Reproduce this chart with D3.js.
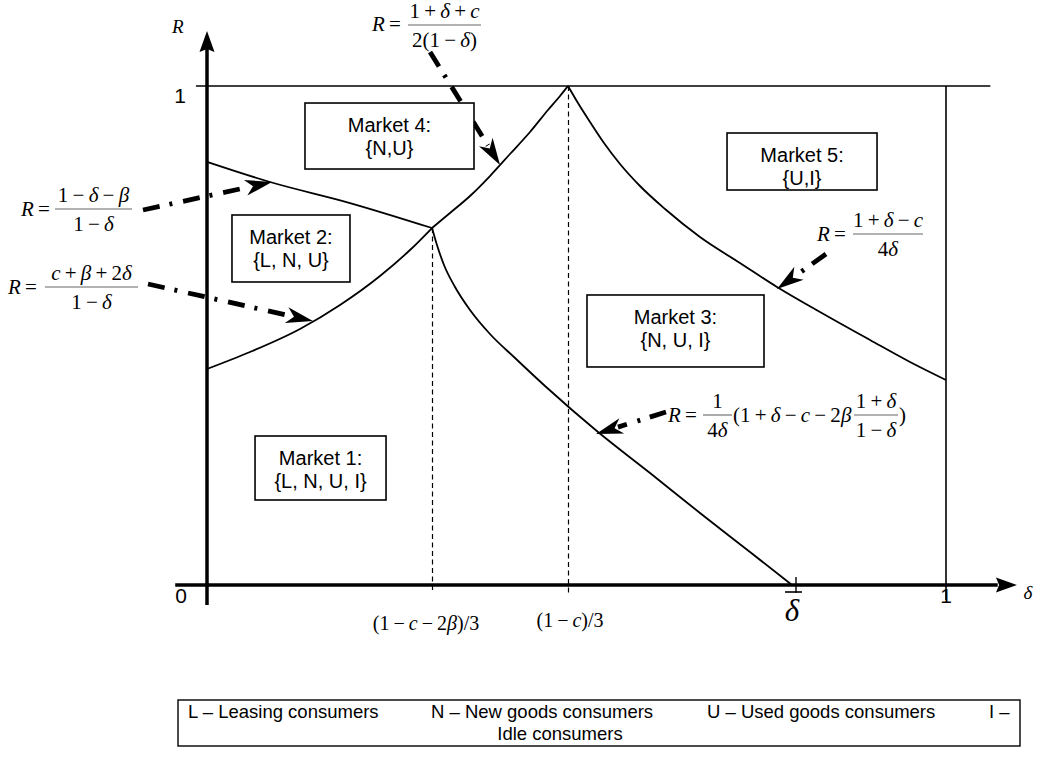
<!DOCTYPE html>
<html>
<head>
<meta charset="utf-8">
<script src="https://cdn.jsdelivr.net/npm/d3@7/dist/d3.min.js"></script>
<style>
  body { margin: 0; background: #fff; }
  svg { display: block; }
  text { white-space: pre; }
  .sans { font-family: "Liberation Sans", Arial, sans-serif; }
  .serif { font-family: "Liberation Serif", "Times New Roman", serif; }
</style>
</head>
<body>
<div id="chart-wrap"></div>
<script>
// critical values of delta on the horizontal axis
const deltaKink = 0.3045;   // (1-c-2β)/3
const deltaPeak = 0.4885;   // (1-c)/3
const deltaBar = 0.7916;

// boundary curves, [delta, R]
const curveTopLeft = [[0, 0.848], [0.0853, 0.8076], [0.1935, 0.7655], [0.3045, 0.7154]];
const curveLowerLeft = [[0, 0.4329], [0.0582, 0.4669], [0.1258, 0.513], [0.18, 0.5611],
  [0.2341, 0.6192], [0.2747, 0.6713], [0.3045, 0.7154]];
const curveUpperMid = [[0.3045, 0.7154], [0.3288, 0.7455], [0.3559, 0.7796], [0.3829, 0.8196],
  [0.41, 0.8637], [0.4371, 0.9078], [0.4614, 0.9519], [0.4777, 0.98], [0.4885, 1.0]];
const curveRight = [[0.4885, 1.0], [0.502, 0.9659], [0.5183, 0.9279], [0.5372, 0.8858],
  [0.5589, 0.8437], [0.5859, 0.7996], [0.6198, 0.7535], [0.6671, 0.6974], [0.7212, 0.6453],
  [0.7713, 0.5972], [0.8295, 0.5471], [0.8972, 0.491], [0.9513, 0.4469], [1.0, 0.4108]];
const curveFalling = [[0.3045, 0.7154], [0.3112, 0.6814], [0.3207, 0.6413], [0.3356, 0.5972],
  [0.3559, 0.5511], [0.3829, 0.503], [0.4168, 0.4549], [0.4574, 0.3988], [0.5291, 0.3066],
  [0.5995, 0.2244], [0.6671, 0.1443], [0.7348, 0.0661], [0.7916, 0]];

// region labels: name, consumers present, top-left corner [delta, R]
const marketNames = ["Market 1:", "Market 2:", "Market 3:", "Market 4:", "Market 5:"];
const marketSets = ["{L, N, U, I}", "{L, N, U}", "{N, U, I}", "{N,U}", "{U,I}"];
const marketCorners = [[0.065, 0.2986], [0.0338, 0.7415], [0.5142, 0.5812], [0.1326, 0.9659], [0.7037, 0.9058]];

// tick labels
const axisLabels = ["0", "1"];
const kinkLabel = "(1\u2009−\u2009c\u2009−\u20092β)/3";
const peakLabel = "(1\u2009−\u2009c)/3";
const legendItems = ["L – Leasing consumers", "N – New goods consumers", "U – Used goods consumers", "I –"];
const legendLine2 = "Idle consumers";

// arrows from the formulas to the curves: [delta, R] start and tip
const arrowStarts = [[0.3018, 1.0681], [-0.0866, 0.7515], [-0.0798, 0.6032], [0.8376, 0.6633], [0.6211, 0.3467]];
const arrowTips = [[0.3965, 0.8417], [0.088, 0.8076], [0.1434, 0.5291], [0.7713, 0.5932], [0.5264, 0.3026]];

const width = 1039;
const height = 765;

const x = d3.scaleLinear().domain([0, 1]).range([207, 946]);
const y = d3.scaleLinear().domain([0, 1]).range([585, 86]);

const svg = d3.select("#chart-wrap")
  .append("svg")
  .attr("width", width)
  .attr("height", height);

// R = 1 line and delta = 1 line
svg.append("line")
  .attr("x1", x(-0.015)).attr("x2", x(1.06))
  .attr("y1", y(1)).attr("y2", y(1))
  .attr("stroke", "#000").attr("stroke-width", 1.6);
svg.append("line")
  .attr("x1", x(1)).attr("x2", x(1))
  .attr("y1", y(1)).attr("y2", y(-0.03))
  .attr("stroke", "#000").attr("stroke-width", 1.6);

// dashed guides
[[deltaKink, curveTopLeft[curveTopLeft.length - 1][1]], [deltaPeak, 1]].forEach(function(d) {
  svg.append("line")
    .attr("x1", Math.round(x(d[0])) + 0.5).attr("x2", Math.round(x(d[0])) + 0.5)
    .attr("y1", y(d[1])).attr("y2", y(-0.015))
    .attr("stroke", "#000").attr("stroke-width", 1.2)
    .attr("stroke-dasharray", "5,3.5");
});

// boundary curves
const line = d3.line()
  .x(function(d) { return x(d[0]); })
  .y(function(d) { return y(d[1]); })
  .curve(d3.curveMonotoneX);

[curveTopLeft, curveLowerLeft, curveUpperMid, curveRight, curveFalling].forEach(function(c) {
  svg.append("path")
    .datum(c)
    .attr("fill", "none")
    .attr("stroke", "#000")
    .attr("stroke-width", 1.8)
    .attr("d", line);
});

// axes with arrow heads
svg.append("line")
  .attr("x1", x(-0.043)).attr("x2", x(1.07))
  .attr("y1", y(0)).attr("y2", y(0))
  .attr("stroke", "#000").attr("stroke-width", 3.5);
svg.append("line")
  .attr("x1", x(0)).attr("x2", x(0))
  .attr("y1", y(-0.04)).attr("y2", y(1.085))
  .attr("stroke", "#000").attr("stroke-width", 3.5);

function headPath(tx, ty, ux, uy, len, w, notch) {
  const bx = tx - ux * len, by = ty - uy * len;
  const nx = -uy, ny = ux;
  const pts = [
    [tx, ty],
    [bx + nx * w, by + ny * w],
    [tx - ux * len * notch, ty - uy * len * notch],
    [bx - nx * w, by - ny * w]
  ];
  return "M" + pts.map(function(p) { return p[0] + "," + p[1]; }).join("L") + "Z";
}
svg.append("path").attr("d", headPath(x(1.096), y(0), 1, 0, 21, 7.5, 0.85)).attr("fill", "#000");
svg.append("path").attr("d", headPath(x(0), y(1.11), 0, -1, 21, 7.5, 0.85)).attr("fill", "#000");

// delta-bar tick
svg.append("line")
  .attr("x1", x(deltaBar) + 4).attr("x2", x(deltaBar) + 4)
  .attr("y1", y(0) - 8).attr("y2", y(0) + 8)
  .attr("stroke", "#000").attr("stroke-width", 1.4);

// mixed italic maths text
function mathText(sel, str, px, py, size, anchor) {
  const t = sel.append("text")
    .attr("class", "serif")
    .attr("x", px).attr("y", py)
    .attr("font-size", size)
    .attr("text-anchor", anchor || "start");
  str.match(/[Rcδβ]+|[^Rcδβ]+/g).forEach(function(r) {
    t.append("tspan")
      .attr("font-style", /[Rcδβ]/.test(r) ? "italic" : "normal")
      .text(r);
  });
  return t;
}

function frac(num, den, x0, x1, barY, size) {
  const cx = (x0 + x1) / 2;
  mathText(svg, num, cx, barY - 7, size, "middle");
  mathText(svg, den, cx, barY + 22, size, "middle");
  svg.append("line")
    .attr("x1", x0).attr("x2", x1)
    .attr("y1", barY).attr("y2", barY)
    .attr("stroke", "#666").attr("stroke-width", 1.1);
}

// formulas
const fs = 21;
const sp = "\u2009";
function op(s) { return s.split(" ").join(sp); }

mathText(svg, op("R ="), 372, 31, fs);
frac(op("1 + δ + c"), op("2(1 − δ)"), 408, 481, 25, fs);

mathText(svg, op("R ="), 21, 216, fs);
frac(op("1 − δ − β"), op("1 − δ"), 55, 132, 209, fs);

mathText(svg, op("R ="), 8, 294, fs);
frac(op("c + β + 2δ"), op("1 − δ"), 45, 138, 287, fs);

mathText(svg, op("R ="), 817, 241, fs);
frac(op("1 + δ − c"), "4δ", 853, 923, 234, fs);

mathText(svg, op("R ="), 668, 422, fs);
frac("1", "4δ", 703, 732, 415, fs);
mathText(svg, op("(1 + δ − c − 2β"), 733, 422, fs);
frac(op("1 + δ"), op("1 − δ"), 854, 898, 415, fs);
mathText(svg, ")", 899, 422, fs);

// dash-dot arrows
arrowStarts.forEach(function(s, i) {
  const t = arrowTips[i];
  const x0 = x(s[0]), y0 = y(s[1]), x1 = x(t[0]), y1 = y(t[1]);
  const L = Math.hypot(x1 - x0, y1 - y0);
  const ux = (x1 - x0) / L, uy = (y1 - y0) / L;
  const headLen = 27;
  svg.append("line")
    .attr("x1", x0).attr("y1", y0)
    .attr("x2", x1 - ux * (headLen - 4)).attr("y2", y1 - uy * (headLen - 4))
    .attr("stroke", "#000").attr("stroke-width", 4.8)
    .attr("stroke-dasharray", "17,10,3,11");
  svg.append("path")
    .attr("d", headPath(x1, y1, ux, uy, headLen, 8, 0.72))
    .attr("fill", "#000");
});

// market boxes
marketNames.forEach(function(name, i) {
  const c = marketCorners[i];
  const w = [131, 118, 177, 169, 150][i];
  const h = [64, 67, 72, 66, 57][i];
  const g = svg.append("g").attr("transform", "translate(" + x(c[0]) + "," + y(c[1]) + ")");
  g.append("rect")
    .attr("width", w).attr("height", h)
    .attr("fill", "#fff").attr("stroke", "#000").attr("stroke-width", 1.6);
  g.append("text").attr("class", "sans")
    .attr("x", w / 2).attr("y", 29)
    .attr("text-anchor", "middle").attr("font-size", 20)
    .text(name);
  g.append("text").attr("class", "sans")
    .attr("x", w / 2).attr("y", 52)
    .attr("text-anchor", "middle").attr("font-size", 20)
    .text(marketSets[i]);
});

// axis labels
svg.append("text").attr("class", "serif")
  .attr("x", x(0) - 35).attr("y", 33)
  .attr("font-size", 19).attr("font-style", "italic")
  .text("R");
svg.append("text").attr("class", "sans")
  .attr("x", x(0) - 27).attr("y", y(1) + 17)
  .attr("text-anchor", "middle").attr("font-size", 21)
  .text(axisLabels[1]);
svg.append("text").attr("class", "sans")
  .attr("x", x(0) - 26).attr("y", y(0) + 18)
  .attr("text-anchor", "middle").attr("font-size", 21)
  .text(axisLabels[0]);
svg.append("text").attr("class", "sans")
  .attr("x", x(1)).attr("y", y(0) + 18)
  .attr("text-anchor", "middle").attr("font-size", 21)
  .text(axisLabels[1]);
svg.append("text").attr("class", "serif")
  .attr("x", x(1.105)).attr("y", y(0) + 14)
  .attr("font-size", 19).attr("font-style", "italic")
  .text("δ");
mathText(svg, kinkLabel, x(deltaKink) - 6, y(0) + 45, 20, "middle");
mathText(svg, peakLabel, x(deltaPeak) + 2, y(0) + 42, 20, "middle");

// delta bar label
svg.append("line")
  .attr("x1", x(deltaBar) - 7).attr("x2", x(deltaBar) + 10)
  .attr("y1", y(0) + 7).attr("y2", y(0) + 7)
  .attr("stroke", "#000").attr("stroke-width", 1.6);
svg.append("text").attr("class", "serif")
  .attr("x", x(deltaBar)).attr("y", y(0) + 36)
  .attr("text-anchor", "middle").attr("font-size", 31).attr("font-style", "italic")
  .text("δ");

// legend
svg.append("rect")
  .attr("x", 178).attr("y", 700).attr("width", 842).attr("height", 46)
  .attr("fill", "#fff").attr("stroke", "#000").attr("stroke-width", 1.4);
const legendX = [188, 431, 707, 989];
legendItems.forEach(function(t, i) {
  svg.append("text").attr("class", "sans")
    .attr("x", legendX[i]).attr("y", 718).attr("font-size", 18.5)
    .text(t);
});
svg.append("text").attr("class", "sans")
  .attr("x", 560).attr("y", 740).attr("text-anchor", "middle").attr("font-size", 18.5)
  .text(legendLine2);
</script>
</body>
</html>
